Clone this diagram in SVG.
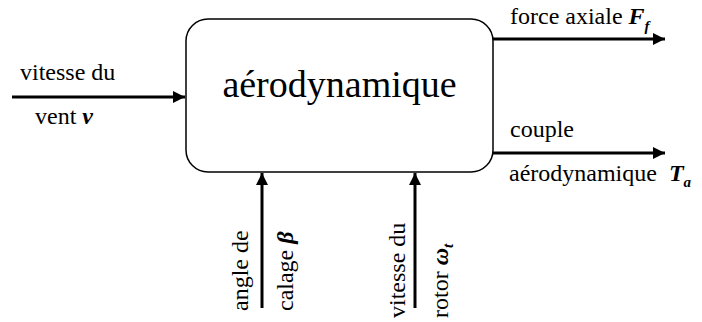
<svg xmlns="http://www.w3.org/2000/svg" width="702" height="322" viewBox="0 0 702 322">
<defs>
<marker id="ah" viewBox="0 0 12 12" refX="12" refY="6" markerWidth="12" markerHeight="12" markerUnits="userSpaceOnUse" orient="auto">
<path d="M0,0 L12,6 L0,12 z" fill="#000"/>
</marker>
</defs>
<rect width="702" height="322" fill="#fff"/>
<g id="aero">
<rect x="186" y="19" width="307" height="153" rx="22" ry="22" fill="#fff" stroke="#000" stroke-width="1.5"/>
<text x="339.5" y="97" font-size="38" text-anchor="middle" font-family="Liberation Serif, serif">aérodynamique</text>
</g>
<g id="connectors" stroke="#000" stroke-width="3" fill="none" marker-end="url(#ah)">
<path d="M12,97 L185,97"/>
<path d="M493,39 L665,39"/>
<path d="M493,153 L665,153"/>
<path d="M262,308 L262,173"/>
<path d="M415,308 L415,173"/>
</g>
<g id="in-vent" font-size="24">
<text font-family="Liberation Serif, serif" x="20" y="80">vitesse du</text>
<text font-family="Liberation Serif, serif" x="35" y="124">vent <tspan font-weight="bold" font-style="italic">v</tspan></text>
</g>
<g id="out-force" font-size="24">
<text font-family="Liberation Serif, serif" x="510" y="24">force axiale <tspan font-weight="bold" font-style="italic">F</tspan><tspan font-weight="bold" font-style="italic" font-size="15" dy="7">f</tspan></text>
</g>
<g id="out-couple" font-size="24">
<text font-family="Liberation Serif, serif" x="510" y="137">couple</text>
<text font-family="Liberation Serif, serif" x="509" y="181">aérodynamique <tspan font-weight="bold" font-style="italic" dx="6">T</tspan><tspan font-weight="bold" font-style="italic" font-size="15" dy="6">a</tspan></text>
</g>
<g id="in-beta" font-size="24">
<text font-family="Liberation Serif, serif" transform="translate(248,311) rotate(-90)">angle de</text>
<text font-family="Liberation Serif, serif" transform="translate(293,311) rotate(-90)">calage <tspan font-weight="bold" font-style="italic">β</tspan></text>
</g>
<g id="in-omega" font-size="24">
<text font-family="Liberation Serif, serif" transform="translate(405,318) rotate(-90)">vitesse du</text>
<text font-family="Liberation Serif, serif" transform="translate(448,318) rotate(-90)">rotor <tspan font-weight="bold" font-style="italic">ω</tspan><tspan font-weight="bold" font-style="italic" font-size="15" dy="5">t</tspan></text>
</g>
</svg>
